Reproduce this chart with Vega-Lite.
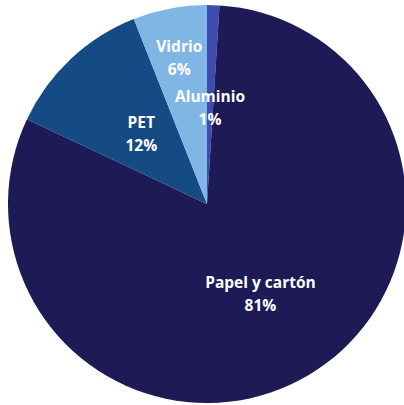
{
  "$schema": "https://vega.github.io/schema/vega-lite/v6.json",
  "width": 414,
  "height": 408,
  "padding": 0,
  "autosize": {"type": "pad"},
  "background": "white",
  "config": {"view": {"stroke": null}},
  "data": {
    "values": [
      {"material": "Aluminio", "pct": 0.01, "orden": 1},
      {"material": "Papel y cartón", "pct": 0.81, "orden": 2},
      {"material": "PET", "pct": 0.12, "orden": 3},
      {"material": "Vidrio", "pct": 0.06, "orden": 4}
    ]
  },
  "encoding": {
    "theta": {"field": "pct", "type": "quantitative", "stack": true},
    "order": {"field": "orden", "type": "quantitative"},
    "color": {
      "field": "material",
      "type": "nominal",
      "scale": {
        "domain": ["Aluminio", "Papel y cartón", "PET", "Vidrio"],
        "range": ["#3f4bb0", "#1d1a55", "#144b85", "#7fb6e3"]
      },
      "legend": null
    }
  },
  "layer": [
    {"mark": {"type": "arc", "outerRadius": 199}},
    {
      "mark": {"type": "text", "radius": 96, "dy": -11.5, "font": "Open Sans", "fontWeight": "bold", "fontSize": 15.5, "fill": "white"},
      "encoding": {"text": {"condition": {"test": "datum.material === 'PET' || datum.material === 'Aluminio'", "field": "material"}, "value": ""}, "color": {"value": "white"}}
    },
    {
      "mark": {"type": "text", "radius": 96, "dy": 11.5, "font": "Open Sans", "fontWeight": "bold", "fontSize": 15.5, "fill": "white"},
      "encoding": {"text": {"condition": {"test": "datum.material === 'PET' || datum.material === 'Aluminio'", "field": "pct", "type": "quantitative", "format": ".0%"}, "value": ""}, "color": {"value": "white"}}
    },
    {
      "mark": {"type": "text", "radius": 105, "dy": -11.5, "font": "Open Sans", "fontWeight": "bold", "fontSize": 15.5, "fill": "white"},
      "encoding": {"text": {"condition": {"test": "datum.material === 'Papel y cartón'", "field": "material"}, "value": ""}, "color": {"value": "white"}}
    },
    {
      "mark": {"type": "text", "radius": 105, "dy": 11.5, "font": "Open Sans", "fontWeight": "bold", "fontSize": 15.5, "fill": "white"},
      "encoding": {"text": {"condition": {"test": "datum.material === 'Papel y cartón'", "field": "pct", "type": "quantitative", "format": ".0%"}, "value": ""}, "color": {"value": "white"}}
    },
    {
      "mark": {"type": "text", "radius": 148, "dy": -11.5, "font": "Open Sans", "fontWeight": "bold", "fontSize": 15.5, "fill": "white"},
      "encoding": {"text": {"condition": {"test": "datum.material === 'Vidrio'", "field": "material"}, "value": ""}, "color": {"value": "white"}}
    },
    {
      "mark": {"type": "text", "radius": 148, "dy": 11.5, "font": "Open Sans", "fontWeight": "bold", "fontSize": 15.5, "fill": "white"},
      "encoding": {"text": {"condition": {"test": "datum.material === 'Vidrio'", "field": "pct", "type": "quantitative", "format": ".0%"}, "value": ""}, "color": {"value": "white"}}
    }
  ]
}
